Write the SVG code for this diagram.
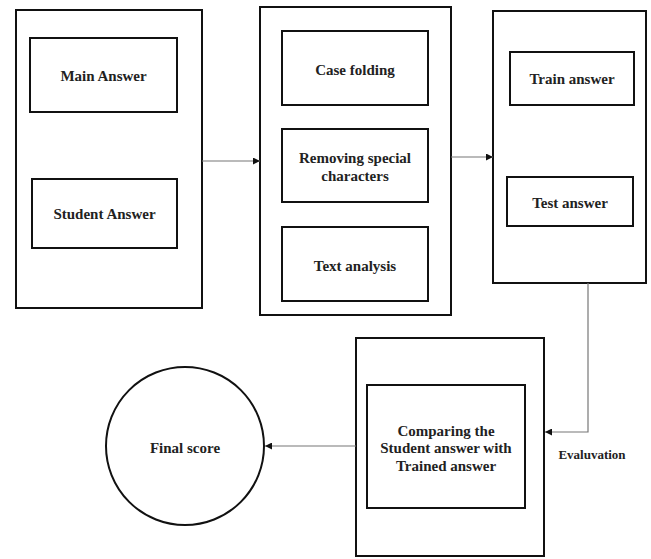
<svg xmlns="http://www.w3.org/2000/svg" width="651" height="559" viewBox="0 0 651 559">
<defs>
<style>
.box{fill:#fff;stroke:#111;stroke-width:2}
.lbl{font-family:"Liberation Serif","Times New Roman",serif;font-weight:bold;font-size:15px;fill:#222;text-anchor:middle}
.conn{fill:none;stroke:#777;stroke-width:1.2}
</style>
<marker id="ah" viewBox="0 0 10 10" refX="10" refY="5" markerWidth="7" markerHeight="7" markerUnits="userSpaceOnUse" orient="auto">
<path d="M0,0 L10,5 L0,10 z" fill="#111"/>
</marker>
</defs>
<rect width="651" height="559" fill="#fff"/>
<g id="input">
<rect class="box" x="16" y="10" width="186" height="298"/>
<g id="main-answer"><rect class="box" x="30" y="38" width="147" height="74"/><text class="lbl" x="103.5" y="81">Main Answer</text></g>
<g id="student-answer"><rect class="box" x="32" y="179" width="145" height="69"/><text class="lbl" x="104.5" y="219">Student Answer</text></g>
</g>
<g id="preprocessing">
<rect class="box" x="260" y="7" width="191" height="308"/>
<g id="case-folding"><rect class="box" x="282" y="31" width="146" height="74"/><text class="lbl" x="355" y="75">Case folding</text></g>
<g id="removing"><rect class="box" x="282" y="129" width="146" height="73"/><text class="lbl" x="355" y="163">Removing special</text><text class="lbl" x="355" y="181">characters</text></g>
<g id="text-analysis"><rect class="box" x="282" y="227" width="146" height="74"/><text class="lbl" x="355" y="271">Text analysis</text></g>
</g>
<g id="split">
<rect class="box" x="493" y="11" width="153" height="272"/>
<g id="train-answer"><rect class="box" x="510" y="52" width="124" height="53"/><text class="lbl" x="572" y="84">Train answer</text></g>
<g id="test-answer"><rect class="box" x="507" y="177" width="126" height="49"/><text class="lbl" x="570" y="208">Test answer</text></g>
</g>
<g id="compare">
<rect class="box" x="356" y="338" width="188" height="218"/>
<rect class="box" x="367" y="385" width="158" height="123"/>
<text class="lbl" x="446" y="436">Comparing the</text>
<text class="lbl" x="446" y="453">Student answer with</text>
<text class="lbl" x="446" y="471">Trained answer</text>
</g>
<g id="final-score">
<circle class="box" cx="185" cy="446" r="79"/>
<text class="lbl" x="185" y="453">Final score</text>
</g>
<g id="connectors">
<line class="conn" x1="202" y1="161" x2="260" y2="161" marker-end="url(#ah)"/>
<line class="conn" x1="451" y1="157" x2="493" y2="157" marker-end="url(#ah)"/>
<polyline class="conn" points="588,283 588,432 545,432" marker-end="url(#ah)"/>
<line class="conn" x1="356" y1="446" x2="265" y2="446" marker-end="url(#ah)"/>
<text class="lbl" x="592" y="459" style="font-size:13px">Evaluvation</text>
</g>
</svg>
